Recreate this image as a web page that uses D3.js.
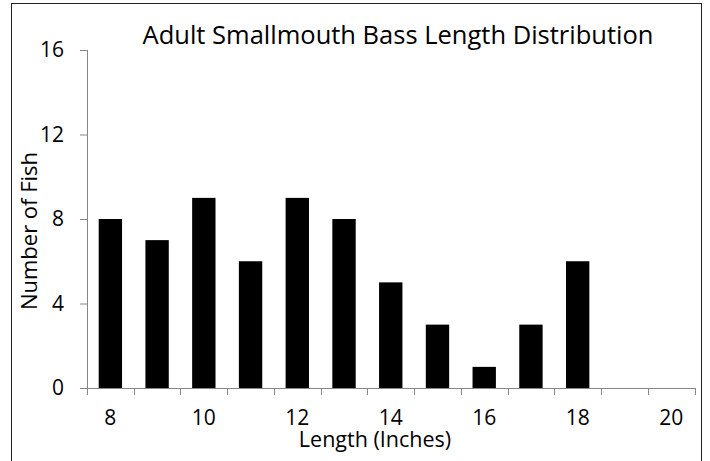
<!DOCTYPE html>
<html>
<head>
<meta charset="utf-8">
<script src="https://cdn.jsdelivr.net/npm/d3@7"></script>
<style>
  html, body { margin: 0; padding: 0; background: #fff; }
  svg { display: block; }
  text { font-family: "Open Sans", "Noto Sans", sans-serif; fill: #000; font-weight: 500; }
</style>
</head>
<body>
<svg id="chart" width="710" height="461"></svg>
<script>
const categories = [8, 9, 10, 11, 12, 13, 14, 15, 16, 17, 18, 19, 20];
const counts     = [8, 7, 9, 6, 9, 8, 5, 3, 1, 3, 6, 0, 0];
const xTickLabels = [8, 10, 12, 14, 16, 18, 20];
const yTicks = [0, 4, 8, 12, 16];
const title = "Adult Smallmouth Bass Length Distribution";
const xTitle = "Length (Inches)";
const yTitle = "Number of Fish";

const svg = d3.select("#chart");
const mLeft = 87, mRight = 694.5, mTop = 50, mBottom = 388;

// outer border
svg.append("rect")
  .attr("x", 11.5).attr("y", 3.5)
  .attr("width", 690).attr("height", 470)
  .attr("fill", "none").attr("stroke", "#222").attr("stroke-width", 1);

const x = d3.scaleBand().domain(categories).range([mLeft, mRight]).paddingInner(0.5).paddingOuter(0.25);
const xEdge = d3.scaleLinear().domain([0, categories.length]).range([mLeft, mRight]);
const y = d3.scaleLinear().domain([0, 16]).range([mBottom, mTop]);

// bars
svg.append("g").selectAll("rect")
  .data(categories.map((c, i) => ({c, v: counts[i]})))
  .join("rect")
  .attr("x", d => x(d.c))
  .attr("width", x.bandwidth())
  .attr("y", d => y(d.v))
  .attr("height", d => y(0) - y(d.v))
  .attr("fill", "#000");

const axisColor = "#868686";

// y axis
const yAxis = svg.append("g")
  .attr("transform", `translate(${mLeft},0)`)
  .call(d3.axisLeft(y).tickValues(yTicks).tickSize(7).tickPadding(16).tickFormat(d3.format("d")));
yAxis.select(".domain").attr("stroke", axisColor).attr("d", `M0.5,${mTop}V${mBottom}`);
yAxis.selectAll(".tick line").attr("stroke", axisColor);
yAxis.selectAll(".tick text").attr("font-size", 21).style("font-family", '"Open Sans", sans-serif');

// x axis: boundary ticks between categories, labels at centers
const xAxisG = svg.append("g").attr("transform", `translate(0,${mBottom})`);
xAxisG.append("line")
  .attr("x1", mLeft - 7).attr("x2", mRight + 0.5)
  .attr("y1", 0.5).attr("y2", 0.5)
  .attr("stroke", axisColor);
xAxisG.selectAll("line.tk")
  .data(d3.range(categories.length + 1))
  .join("line")
  .attr("class", "tk")
  .attr("x1", i => Math.round(xEdge(i)) + 0.5)
  .attr("x2", i => Math.round(xEdge(i)) + 0.5)
  .attr("y1", 0).attr("y2", 7)
  .attr("stroke", axisColor);
xAxisG.selectAll("text")
  .data(xTickLabels)
  .join("text")
  .attr("x", d => x(d) + x.bandwidth() / 2)
  .attr("y", 37)
  .attr("text-anchor", "middle")
  .attr("font-size", 21)
  .text(d => d);

// titles
svg.append("text")
  .attr("x", 398).attr("y", 44)
  .attr("text-anchor", "middle")
  .attr("font-size", 25.5)
  .text(title);

svg.append("text")
  .attr("x", 375).attr("y", 447)
  .attr("text-anchor", "middle")
  .attr("font-size", 21.5)
  .text(xTitle);

svg.append("text")
  .attr("transform", "translate(37,231) rotate(-90)")
  .attr("text-anchor", "middle")
  .attr("font-size", 22)
  .text(yTitle);
</script>
</body>
</html>
